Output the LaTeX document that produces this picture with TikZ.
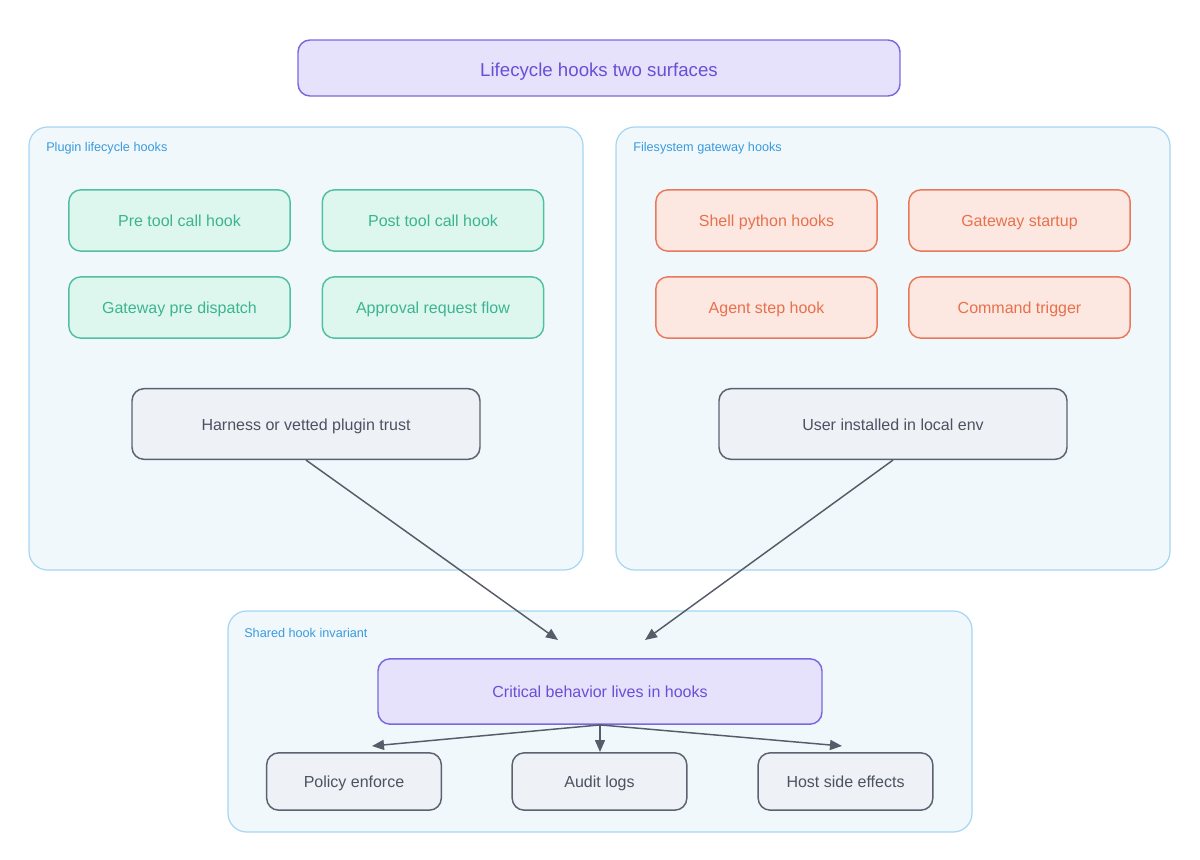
\documentclass[tikz,border=0pt]{standalone}
\usepackage{fontspec}
\setmainfont{Liberation Sans}
\usetikzlibrary{arrows.meta}
\definecolor{grpfill}{HTML}{F1F8FC}
\definecolor{grpline}{HTML}{A6D6F2}
\definecolor{grptext}{HTML}{3A9BDC}
\definecolor{purfill}{HTML}{E6E2FB}
\definecolor{purline}{HTML}{7B68E0}
\definecolor{purtext}{HTML}{6A4FD6}
\definecolor{grnfill}{HTML}{DDF7EF}
\definecolor{grnline}{HTML}{52C0A0}
\definecolor{grntext}{HTML}{3DB48F}
\definecolor{orgfill}{HTML}{FCE8E0}
\definecolor{orgline}{HTML}{E9795B}
\definecolor{orgtext}{HTML}{E8704E}
\definecolor{gryfill}{HTML}{EEF1F5}
\definecolor{gryline}{HTML}{5C6370}
\definecolor{grytext}{HTML}{4B5261}
\definecolor{arr}{HTML}{565C68}
\tikzset{
  box/.style={rounded corners=9pt, line width=1.1pt, inner sep=0pt, text height=10.2pt, text depth=1pt},
  grp/.style={draw=grpline, fill=grpfill, rounded corners=14pt, line width=0.9pt},
  grplabel/.style={text=grptext, font=\fontsize{9.5}{11}\selectfont, anchor=west, inner sep=0pt},
  purbox/.style={box, draw=purline, fill=purfill, text=purtext},
  grnbox/.style={box, draw=grnline, fill=grnfill, text=grntext, font=\fontsize{12}{14}\selectfont, minimum width=166pt, minimum height=46pt},
  orgbox/.style={box, draw=orgline, fill=orgfill, text=orgtext, font=\fontsize{12}{14}\selectfont, minimum width=166pt, minimum height=46pt},
  grybox/.style={box, draw=gryline, fill=gryfill, text=grytext, font=\fontsize{12}{14}\selectfont},
  conn/.style={draw=arr, line width=1.1pt, -{Triangle[length=9pt,width=7.5pt]}}
}
\begin{document}
\begin{tikzpicture}[x=0.75pt,y=-0.75pt]
\useasboundingbox (0,0) rectangle (1200,860);
% groups
\draw[grp] (29,127) rectangle (583,570);
\draw[grp] (616,127) rectangle (1170,570);
\draw[grp] (228,611) rectangle (972,832);
\node[grplabel] (lp) at (46,148.5) {Plugin lifecycle hooks};
\node[grplabel] (lf) at (633,148.5) {Filesystem gateway hooks};
\node[grplabel] (ls) at (244,632.5) {Shared hook invariant};
% title
\node[purbox, font=\fontsize{14}{16}\selectfont, text height=13pt, text depth=0pt, minimum width=451.5pt, minimum height=42pt] (title) at (599,68) {Lifecycle hooks two surfaces};
% green
\node[grnbox] (pre) at (179.5,220.5) {Pre tool call hook};
\node[grnbox] (post) at (433,220.5) {Post tool call hook};
\node[grnbox] (gpd) at (179.5,307.5) {Gateway pre dispatch};
\node[grnbox] (arf) at (433,307.5) {Approval request flow};
% orange
\node[orgbox] (shell) at (766.5,220.5) {Shell python hooks};
\node[orgbox] (gs) at (1019.5,220.5) {Gateway startup};
\node[orgbox] (ash) at (766.5,307.5) {Agent step hook};
\node[orgbox] (ct) at (1019.5,307.5) {Command trigger};
% grey trust
\node[grybox, minimum width=261pt, minimum height=53pt] (harness) at (306,424) {Harness or vetted plugin trust};
\node[grybox, minimum width=261pt, minimum height=53pt] (user) at (893,424) {User installed in local env};
% critical
\node[purbox, font=\fontsize{12}{14}\selectfont, minimum width=333pt, minimum height=49pt] (crit) at (600,691.5) {Critical behavior lives in hooks};
% bottom
\node[grybox, minimum width=131pt, minimum height=43pt] (pol) at (354,781.5) {Policy enforce};
\node[grybox, minimum width=131pt, minimum height=43pt] (aud) at (599.5,781.5) {Audit logs};
\node[grybox, minimum width=131pt, minimum height=43pt] (host) at (845.5,781.5) {Host side effects};
% connectors
\coordinate (e1) at (558,640);
\coordinate (e2) at (645,640);
\coordinate (b1) at (372,746);
\coordinate (b2) at (600,752);
\coordinate (b3) at (842,746);
\draw[conn] (harness.south) -- (e1);
\draw[conn] (user.south) -- (e2);
\draw[conn] (crit.south) -- (b1);
\draw[conn] (crit.south) -- (b2);
\draw[conn] (crit.south) -- (b3);
\end{tikzpicture}
\end{document}
